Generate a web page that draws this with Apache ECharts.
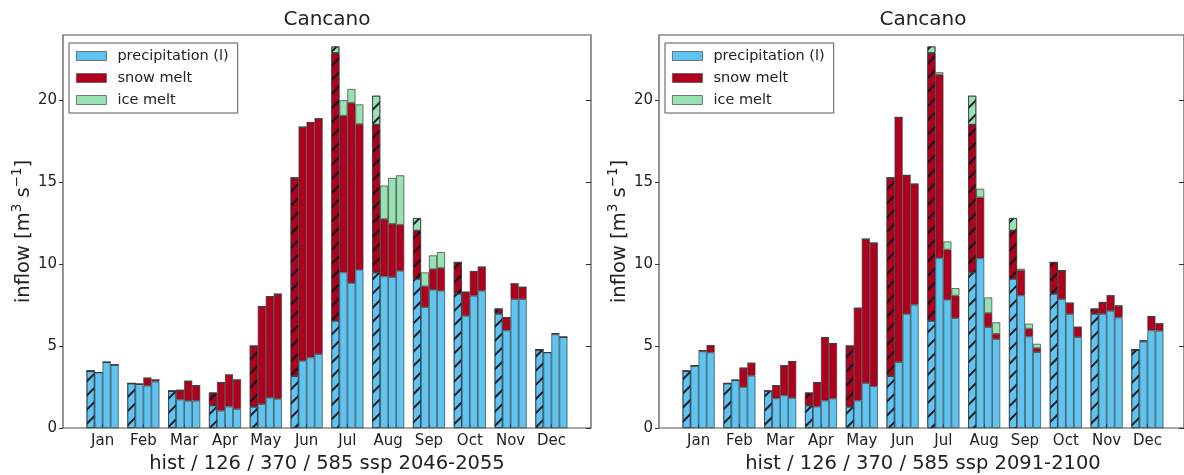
<!DOCTYPE html>
<html>
<head>
<meta charset="utf-8">
<title>Cancano inflow</title>
<script src="https://cdn.jsdelivr.net/npm/echarts@6.0.0/dist/echarts.min.js"></script>
<style>
  html, body { margin: 0; padding: 0; background: #ffffff; }
  #chart { width: 1184px; height: 475px; }
</style>
</head>
<body>
<div id="chart"></div>
<script>
// Monthly inflow into Cancano reservoir [m3/s], split into components.
const months = ['Jan', 'Feb', 'Mar', 'Apr', 'May', 'Jun', 'Jul', 'Aug', 'Sep', 'Oct', 'Nov', 'Dec'];
const yTicks = [0, 5, 10, 15, 20];

// historical reference period
const histPrecip = [3.47, 2.72, 2.25, 1.38, 1.30, 3.17, 6.55, 9.50, 9.11, 8.20, 6.98, 4.78];
const histSnow   = [0, 0, 0, 0.75, 3.70, 12.10, 16.35, 9.02, 2.94, 1.91, 0.28, 0];
const histIce    = [0, 0, 0, 0, 0, 0, 0.40, 1.77, 0.77, 0, 0, 0];

// 2046-2055
const mid126Precip = [3.39, 2.68, 1.74, 1.06, 1.46, 4.10, 9.50, 9.26, 7.38, 6.85, 5.96, 4.61];
const mid126Snow   = [0, 0, 0.57, 1.72, 5.96, 14.28, 9.57, 3.50, 1.27, 1.45, 0.79, 0];
const mid126Ice    = [0, 0, 0, 0, 0, 0, 0.94, 2.04, 0.85, 0, 0, 0];
const mid370Precip = [4.02, 2.58, 1.66, 1.31, 1.85, 4.31, 8.85, 9.22, 8.44, 8.08, 7.87, 5.72];
const mid370Snow   = [0, 0.47, 1.20, 1.93, 6.18, 14.35, 11.00, 3.25, 1.26, 1.48, 0.94, 0.05];
const mid370Ice    = [0, 0, 0, 0, 0, 0, 0.85, 2.80, 0.84, 0, 0, 0];
const mid585Precip = [3.86, 2.84, 1.67, 1.16, 1.78, 4.51, 9.66, 9.60, 8.38, 8.38, 7.87, 5.55];
const mid585Snow   = [0, 0.10, 0.92, 1.78, 6.40, 14.38, 8.90, 2.81, 1.39, 1.45, 0.73, 0];
const mid585Ice    = [0, 0, 0, 0, 0, 0, 1.20, 3.02, 0.97, 0, 0, 0];

// 2091-2100
const end126Precip = [3.80, 2.92, 1.81, 1.31, 1.68, 4.02, 10.38, 10.36, 8.10, 7.87, 6.96, 5.28];
const end126Snow   = [0, 0, 0.78, 1.47, 5.64, 14.95, 11.20, 3.72, 1.52, 1.75, 0.71, 0.05];
const end126Ice    = [0, 0, 0, 0, 0, 0, 0.14, 0.53, 0.10, 0, 0, 0];
const end370Precip = [4.68, 2.50, 1.99, 1.68, 2.74, 6.96, 7.83, 6.16, 5.59, 6.96, 7.16, 5.96];
const end370Snow   = [0.05, 1.16, 1.82, 3.85, 8.80, 8.47, 3.06, 0.86, 0.47, 0.67, 0.92, 0.85];
const end370Ice    = [0, 0, 0, 0, 0, 0, 0.50, 0.95, 0.31, 0, 0, 0];
const end585Precip = [4.61, 3.20, 1.83, 1.80, 2.55, 7.53, 6.71, 5.43, 4.63, 5.55, 6.75, 5.94];
const end585Snow   = [0.42, 0.76, 2.23, 3.36, 8.75, 7.37, 1.37, 0.32, 0.25, 0.61, 0.71, 0.43];
const end585Ice    = [0, 0, 0, 0, 0, 0, 0.46, 0.70, 0.26, 0, 0, 0];

const componentNames = ['precipitation (l)', 'snow melt', 'ice melt'];
const componentColors = ['#5ec5f2', '#b0001e', '#98e2b2'];
const panelTitles = ['Cancano', 'Cancano'];
const panelLabels = ['hist / 126 / 370 / 585 ssp 2046-2055', 'hist / 126 / 370 / 585 ssp 2091-2100'];

const panels = [
  [
    { key: 'hist', parts: [histPrecip, histSnow, histIce] },
    { key: '126', parts: [mid126Precip, mid126Snow, mid126Ice] },
    { key: '370', parts: [mid370Precip, mid370Snow, mid370Ice] },
    { key: '585', parts: [mid585Precip, mid585Snow, mid585Ice] }
  ],
  [
    { key: 'hist', parts: [histPrecip, histSnow, histIce] },
    { key: '126', parts: [end126Precip, end126Snow, end126Ice] },
    { key: '370', parts: [end370Precip, end370Snow, end370Ice] },
    { key: '585', parts: [end585Precip, end585Snow, end585Ice] }
  ]
];

// layout of the two panels (frame = axes box, data = bar band area)
const frameLeft = [63, 659];
const frameWidth = 528;
const plotTop = 35;
const plotHeight = 393;
const bandInset = 19.2;
const FONT = 'DejaVu Sans';
const INK = '#222222';

// diagonal '/' hatching for the historical bars
const hatch = {
  symbol: 'rect',
  symbolSize: 1,
  dashArrayX: [1, 0],
  dashArrayY: [1.5, 7.5],
  rotation: -Math.PI / 4,
  color: 'rgba(10,10,20,0.9)'
};

const grids = [], xAxes = [], yAxes = [], series = [], titles = [], legends = [];

panels.forEach(function (scenarios, p) {
  const fl = frameLeft[p];
  const frameGrid = grids.length;
  grids.push({ left: fl, top: plotTop, width: frameWidth, height: plotHeight,
    show: true, borderColor: '#4d4d4d', borderWidth: 1.2, backgroundColor: 'transparent' });
  const dataGrid = grids.length;
  grids.push({ left: fl + bandInset, top: plotTop, width: frameWidth - 2 * bandInset, height: plotHeight });

  // frame axes (ticks, labels, name)
  xAxes.push({ gridIndex: frameGrid, type: 'value', min: 0, max: 1, show: false });
  yAxes.push({
    gridIndex: frameGrid, type: 'value', min: 0, max: 24, interval: 5, position: 'left',
    axisLine: { show: false },
    axisTick: { show: true, inside: false, length: 4, customValues: yTicks, lineStyle: { color: '#333', width: 1 } },
    axisLabel: { show: true, customValues: yTicks, fontSize: 15, color: INK, margin: 6, fontFamily: FONT },
    splitLine: { show: false },
    name: '{b|inflow [m}{s|3}{b| s}{s|\u22121}{b|]}',
    nameLocation: 'middle', nameRotate: 90, nameGap: 28,
    nameTextStyle: {
      fontFamily: FONT, color: INK,
      rich: {
        b: { fontSize: 19.5, lineHeight: 24, verticalAlign: 'bottom', fontFamily: FONT, color: INK },
        s: { fontSize: 13.5, lineHeight: 24, verticalAlign: 'top', fontFamily: FONT, color: INK }
      }
    }
  });
  yAxes.push({
    gridIndex: frameGrid, type: 'value', min: 0, max: 24, interval: 5, position: 'right',
    axisLine: { show: false },
    axisTick: { show: true, inside: true, length: 5, customValues: yTicks, lineStyle: { color: '#333', width: 1 } },
    axisLabel: { show: false },
    splitLine: { show: false }
  });

  // data axes
  xAxes.push({
    gridIndex: dataGrid, type: 'category', data: months, boundaryGap: true,
    axisLine: { show: false },
    axisTick: { show: true, inside: true, length: 4, alignWithLabel: true, lineStyle: { color: '#222', width: 1 } },
    axisLabel: { fontSize: 15, color: INK, margin: 6, fontFamily: FONT, interval: 0 },
    splitLine: { show: false }
  });
  const dataX = xAxes.length - 1;
  yAxes.push({ gridIndex: dataGrid, type: 'value', min: 0, max: 24, show: false, splitLine: { show: false } });
  const dataY = yAxes.length - 1;

  scenarios.forEach(function (sc) {
    const isHist = sc.key === 'hist';
    sc.parts.forEach(function (values, c) {
      const itemStyle = { color: componentColors[c], borderColor: '#3a3a3a', borderWidth: 0.7 };
      if (isHist) itemStyle.decal = hatch;
      series.push({
        type: 'bar',
        name: isHist ? 'hist ' + componentNames[c] : componentNames[c],
        xAxisIndex: dataX,
        yAxisIndex: dataY,
        stack: 'p' + p + '-' + sc.key,
        barWidth: 8,
        barGap: '0%',
        data: values,
        itemStyle: itemStyle,
        emphasis: { disabled: true },
        silent: true
      });
    });
  });

  const centre = fl + frameWidth / 2;
  titles.push({ text: panelTitles[p], left: centre, top: 10, textAlign: 'center', padding: 0,
    textStyle: { fontSize: 20, fontWeight: 'normal', color: INK, fontFamily: FONT } });
  titles.push({ text: panelLabels[p], left: centre, top: 454, textAlign: 'center', padding: 0,
    textStyle: { fontSize: 19.5, fontWeight: 'normal', color: INK, fontFamily: FONT } });

  legends.push({
    orient: 'vertical', left: fl + 6, top: 43,
    padding: [5, 9, 5, 7], itemWidth: 30, itemHeight: 9, itemGap: 6,
    borderColor: '#555', borderWidth: 1, backgroundColor: '#ffffff',
    icon: 'rect', selectedMode: false,
    itemStyle: { borderColor: '#555', borderWidth: 0.8 },
    data: componentNames,
    textStyle: { fontSize: 14.5, lineHeight: 16, color: INK, fontFamily: FONT, padding: [0, 0, 0, 6] }
  });
});

const chart = echarts.init(document.getElementById('chart'), null, { renderer: 'canvas' });
chart.setOption({
  animation: false,
  backgroundColor: '#ffffff',
  textStyle: { fontFamily: FONT },
  title: titles,
  legend: legends,
  grid: grids,
  xAxis: xAxes,
  yAxis: yAxes,
  series: series
});
</script>
</body>
</html>
